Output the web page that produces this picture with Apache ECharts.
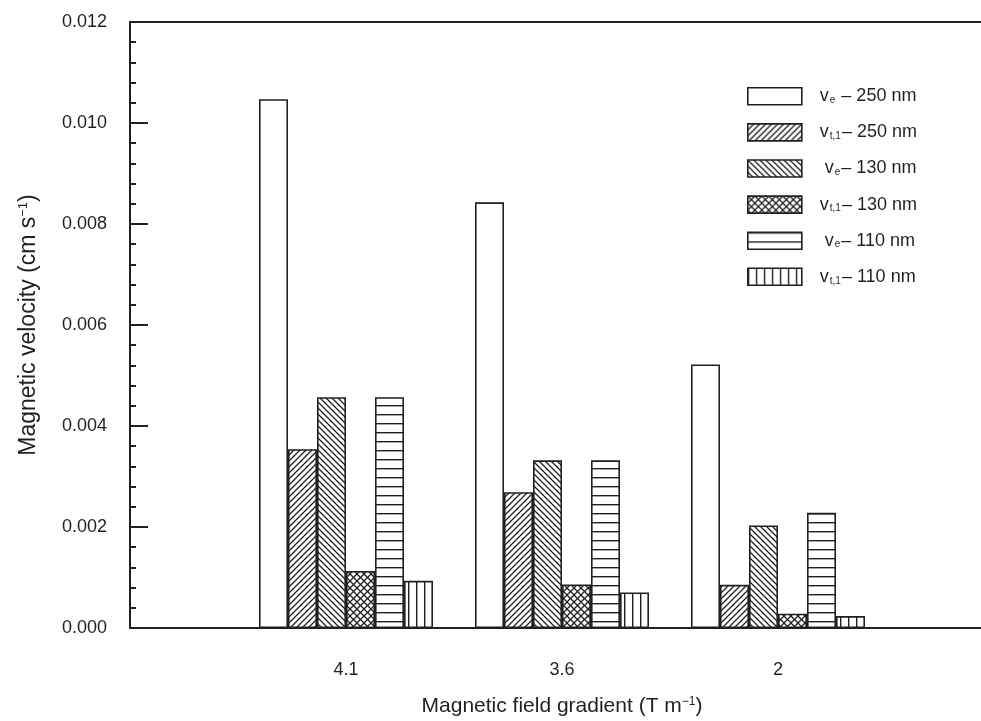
<!DOCTYPE html>
<html>
<head>
<meta charset="utf-8">
<script src="https://cdn.jsdelivr.net/npm/echarts@6/dist/echarts.min.js"></script>
<style>
html,body{margin:0;padding:0;background:#fff;}
#chart{width:981px;height:721px;}
</style>
</head>
<body>
<div id="chart"></div>
<script>
// ---- data ----
var groups = ['4.1', '3.6', '2'];
var yTicks = [0, 0.002, 0.004, 0.006, 0.008, 0.010, 0.012];
var seriesNames = ['ve250', 'vt250', 've130', 'vt130', 've110', 'vt110'];
var legendLabels = [
  'v{sub|e} – 250 nm',
  'v{sub|t,1}– 250 nm',
  ' v{sub|e}– 130 nm',
  'v{sub|t,1}– 130 nm',
  ' v{sub|e}– 110 nm',
  'v{sub|t,1}– 110 nm'
];
var ve250 = [0.01047, 0.00843, 0.00522];
var vt250 = [0.00354, 0.00269, 0.000855];
var ve130 = [0.00457, 0.00332, 0.00203];
var vt130 = [0.00113, 0.000862, 0.000283];
var ve110 = [0.00457, 0.00332, 0.00228];
var vt110 = [0.000934, 0.000704, 0.000237];
var patternTypes = ['none', 'slash', 'backslash', 'cross', 'horizontal', 'vertical'];

// ---- styles ----
var INK = '#231f20';

function makePattern(type) {
  var w = 6, h = 6;
  if (type === 'cross') { w = 7; h = 7; }
  if (type === 'horizontal') { w = 4; h = 9; }
  if (type === 'vertical') { w = 8; h = 4; }
  if (type === 'none') { return '#ffffff'; }
  var c = document.createElement('canvas');
  c.width = w; c.height = h;
  var ctx = c.getContext('2d');
  ctx.fillStyle = '#ffffff';
  ctx.fillRect(0, 0, w, h);
  ctx.strokeStyle = INK;
  ctx.fillStyle = INK;
  ctx.lineWidth = 1.3;
  function slash() {
    ctx.beginPath();
    ctx.moveTo(-1, h + 1); ctx.lineTo(w + 1, -1);
    ctx.moveTo(-1 - w, h + 1); ctx.lineTo(1, -1);
    ctx.moveTo(w - 1, h + 1); ctx.lineTo(2 * w + 1, -1);
    ctx.stroke();
  }
  function backslash() {
    ctx.beginPath();
    ctx.moveTo(-1, -1); ctx.lineTo(w + 1, h + 1);
    ctx.moveTo(-1 - w, -1); ctx.lineTo(1, h + 1);
    ctx.moveTo(w - 1, -1); ctx.lineTo(2 * w + 1, h + 1);
    ctx.stroke();
  }
  if (type === 'slash') slash();
  if (type === 'backslash') backslash();
  if (type === 'cross') { slash(); backslash(); }
  if (type === 'horizontal') ctx.fillRect(0, 0, w, 1.4);
  if (type === 'vertical') ctx.fillRect(0, 0, 1.4, h);
  return { image: c, repeat: 'repeat' };
}

var xCats = [''].concat(groups).concat(['']);
var seriesValues = [ve250, vt250, ve130, vt130, ve110, vt110];

var series = seriesValues.map(function (vals, i) {
  return {
    name: seriesNames[i],
    type: 'bar',
    barWidth: 29,
    barGap: '0%',
    data: ['-'].concat(vals).concat(['-']),
    itemStyle: {
      color: makePattern(patternTypes[i]),
      borderColor: INK,
      borderWidth: 1.6
    },
    emphasis: { disabled: true },
    animation: false
  };
});

var chart = echarts.init(document.getElementById('chart'), null, { renderer: 'canvas' });
chart.setOption({
  backgroundColor: '#ffffff',
  animation: false,
  textStyle: { fontFamily: 'Liberation Sans, Arial, sans-serif', color: INK },
  grid: {
    left: 130, top: 22, width: 864, height: 606,
    containLabel: false,
    outerBoundsMode: 'none',
    show: true, borderColor: INK, borderWidth: 2, backgroundColor: 'transparent'
  },
  legend: {
    orient: 'vertical',
    left: 742, top: 82,
    itemWidth: 54, itemHeight: 17, itemGap: 17.5,
    icon: 'rect',
    selectedMode: false,
    data: seriesNames,
    itemStyle: { borderColor: INK, borderWidth: 1.6 },
    formatter: function (name) { return legendLabels[seriesNames.indexOf(name)]; },
    textStyle: {
      fontSize: 18, color: INK, padding: [0, 0, 0, 13],
      fontFamily: 'Liberation Sans, Arial, sans-serif',
      rich: { sub: { fontSize: 10, verticalAlign: 'bottom', lineHeight: 14, padding: [0, 1, 0, 1], color: INK } }
    }
  },
  xAxis: {
    type: 'category',
    data: xCats,
    boundaryGap: false,
    axisLine: { lineStyle: { color: INK, width: 2 } },
    axisTick: { show: false },
    axisLabel: { fontSize: 18, color: INK, margin: 33, interval: 0 },
    splitLine: { show: false },
    name: '{t|Magnetic field gradient (T m}{sup|−1}{t|)}',
    nameLocation: 'middle',
    nameGap: 68,
    nameTextStyle: {
      rich: {
        t: { fontSize: 21, color: INK },
        sup: { fontSize: 12, verticalAlign: 'top', color: INK }
      }
    }
  },
  yAxis: {
    type: 'value',
    min: yTicks[0], max: yTicks[yTicks.length - 1], interval: yTicks[1] - yTicks[0],
    axisLine: { show: true, lineStyle: { color: INK, width: 2 } },
    axisTick: { show: true, inside: true, length: 18, lineStyle: { color: INK, width: 2 } },
    minorTick: { show: true, splitNumber: 5, length: 6, lineStyle: { color: INK, width: 2 } },
    splitLine: { show: false },
    axisLabel: {
      fontSize: 18, color: INK, margin: 23,
      formatter: function (v) { return v.toFixed(3); }
    },
    name: '{t|Magnetic velocity (cm s}{sup|−1}{t|)}',
    nameLocation: 'middle',
    nameGap: 90,
    nameTextStyle: {
      rich: {
        t: { fontSize: 23, color: INK },
        sup: { fontSize: 13, verticalAlign: 'top', color: INK }
      }
    }
  },
  series: series
});
</script>
</body>
</html>
